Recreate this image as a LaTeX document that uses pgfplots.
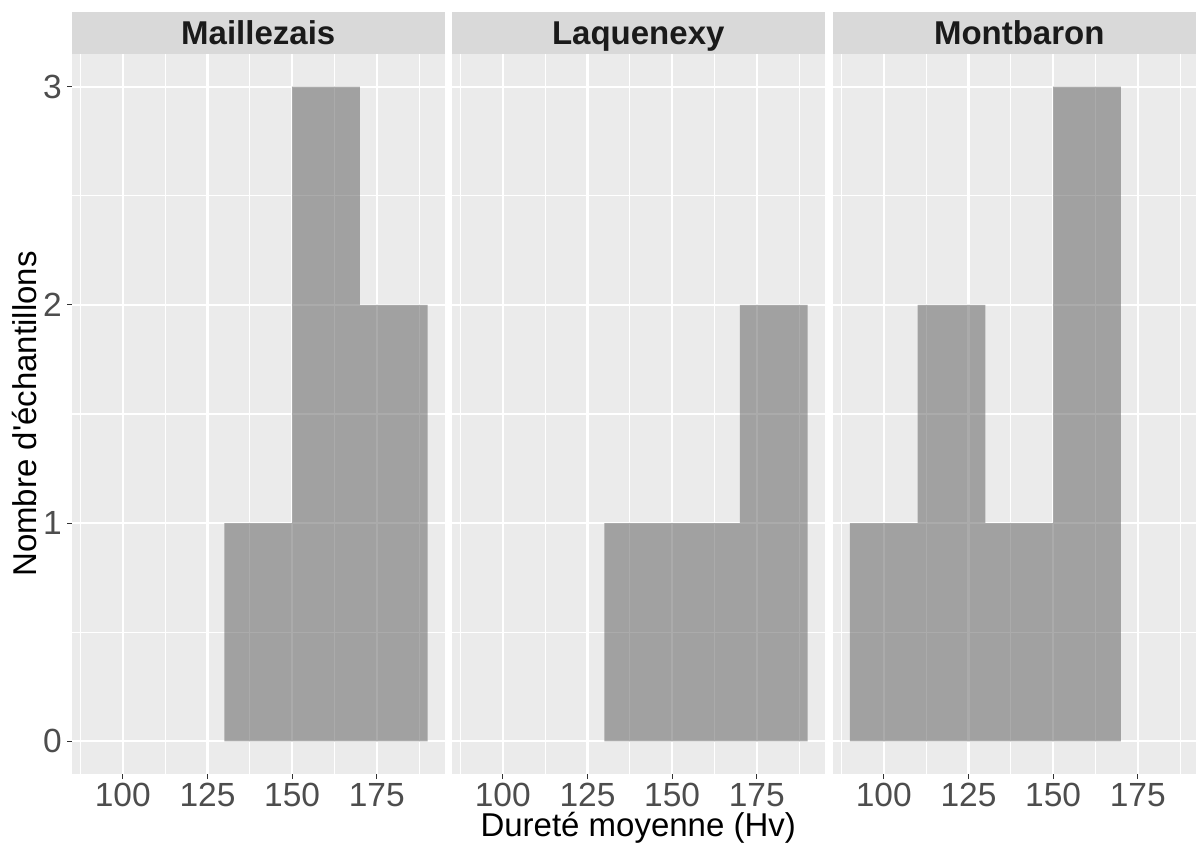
\documentclass[border=0pt]{standalone}
\usepackage{fontspec}
\setmainfont{Liberation Sans}[Ligatures=TeXOff]
\usepackage{pgfplots}
\pgfplotsset{compat=1.18}
\definecolor{bgc}{HTML}{EBEBEB}
\definecolor{stripc}{HTML}{D9D9D9}
\definecolor{barc}{HTML}{595959}
\definecolor{ticklab}{HTML}{4D4D4D}
\definecolor{tickcol}{HTML}{333333}
\definecolor{striptext}{HTML}{1A1A1A}
\pgfplotsset{
 every axis title/.style={at={(0.5,1)}, anchor=south, fill=stripc,
    minimum width=372.5bp, minimum height=42bp, inner sep=0pt,
    text height=23.5bp, text depth=0pt, text=striptext,
    font=\bfseries\fontsize{33bp}{33bp}\selectfont},
 panel/.style={
  scale only axis, width=372.5bp, height=720bp,
  xmin=85, xmax=195, ymin=-0.15, ymax=3.15,
  xtick={100,125,150,175}, minor xtick={87.5,112.5,137.5,162.5,187.5},
  ytick={0,1,2,3}, minor ytick={0.5,1.5,2.5},
  grid=both,
  major grid style={white, line width=2.2bp},
  minor grid style={white, line width=1.1bp},
  axis background/.style={fill=bgc},
  axis line style={draw=none},
  tick align=outside, tick pos=left,
  major tick length=5bp, minor tick length=0pt,
  tick style={tickcol, line width=1.1bp},
  /pgf/number format/assume math mode=true,
  ticklabel style={font=\fontsize{33.5bp}{33.5bp}\selectfont, text=ticklab},
  xticklabel style={anchor=base, inner sep=0pt, yshift=-27bp},
  yticklabel style={anchor=east, inner sep=0pt, xshift=-5bp},
 },
 bars/.style={ybar interval, fill=barc, fill opacity=0.5, draw=none},
}
\begin{document}
\begin{tikzpicture}
\begin{axis}[panel, at={(72bp,69bp)}, anchor=south west, title={Maillezais},
  ylabel={Nombre d'échantillons},
  ylabel style={at={(axis description cs:-0.1275,0.5)}, anchor=center, inner sep=0pt,
    font=\fontsize{33bp}{33bp}\selectfont, text=black}]
\addplot[bars] coordinates {(130,1) (150,3) (170,2) (190,2)};
\end{axis}
\begin{axis}[panel, at={(452bp,69bp)}, anchor=south west, title={Laquenexy},
  yticklabels={}, ytick style={draw=none},
  xlabel={Dureté moyenne (Hv)},
  xlabel style={at={(axis description cs:0.5,-0.0875)}, anchor=base, inner sep=0pt,
    font=\fontsize{33bp}{33bp}\selectfont, text=black}]
\addplot[bars] coordinates {(130,1) (150,1) (170,2) (190,2)};
\end{axis}
\begin{axis}[panel, at={(833bp,69bp)}, anchor=south west, title={Montbaron},
  yticklabels={}, ytick style={draw=none}]
\addplot[bars] coordinates {(90,1) (110,2) (130,1) (150,3) (170,3)};
\end{axis}
\pgfresetboundingbox
\path[use as bounding box] (0,0) rectangle (1196bp,843bp);
\end{tikzpicture}
\end{document}
